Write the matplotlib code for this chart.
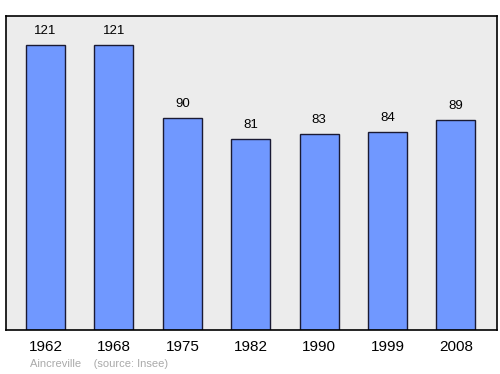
import matplotlib.pyplot as plt

plt.rcParams['font.family'] = ['Liberation Sans', 'DejaVu Sans']

years = ["1962", "1968", "1975", "1982", "1990", "1999", "2008"]
population = [121, 121, 90, 81, 83, 84, 89]

fig = plt.figure(figsize=(5, 3.74), dpi=100)
ax = fig.add_axes([6 / 500, 1 - 330 / 374, 491 / 500, 314 / 374])
ax.set_facecolor("#ececec")

x = range(len(years))
ax.bar(x, population, width=0.57, color="#7098ff", edgecolor="#1a1a33", linewidth=1)

for xi, v in zip(x, population):
    ax.annotate(str(v), (xi, v), xytext=(0, 6), textcoords="offset points",
                ha="center", va="bottom", fontsize=9.5)

ax.set_xlim(-0.578, 6.6)
ax.set_ylim(0, 133.3)
ax.set_yticks([])
ax.set_xticks(list(x))
ax.set_xticklabels(years, fontsize=11)
ax.tick_params(axis="x", length=0, pad=7)
for s in ax.spines.values():
    s.set_linewidth(1.2)

fig.text(30 / 500, 1 - 364 / 374, "Aincreville    (source: Insee)", fontsize=8,
         color="#aaaaaa", va="center")

fig.savefig("out.png", dpi=100)
